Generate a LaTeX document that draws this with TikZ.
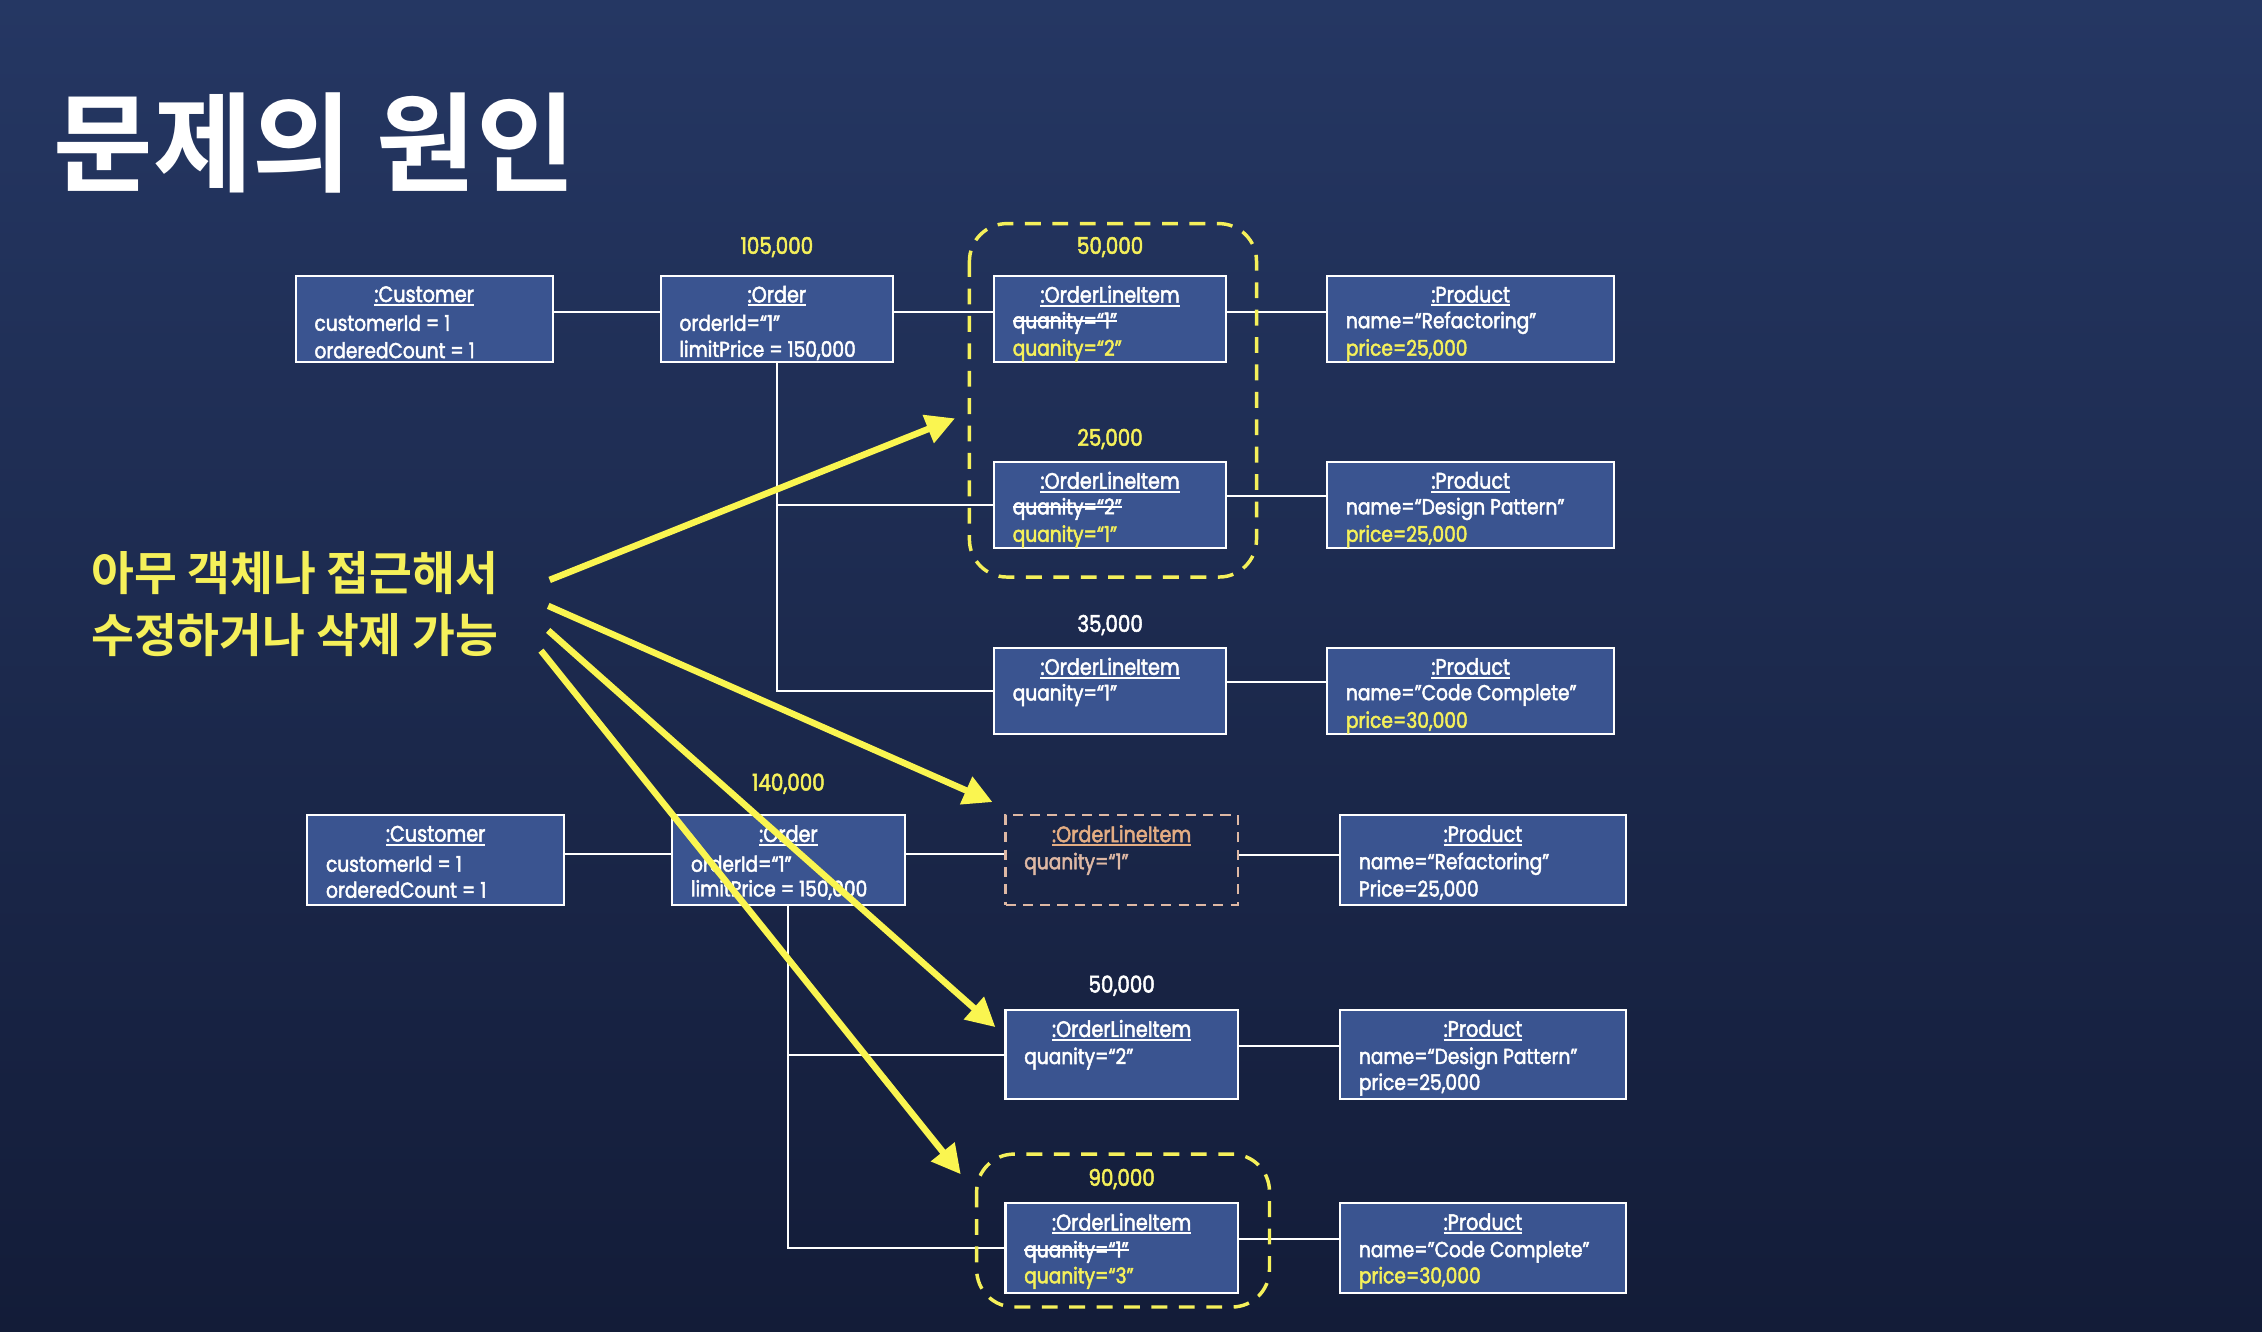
\documentclass[tikz,border=0pt]{standalone}
\usepackage{fontspec}
\setmainfont{Poppins}[FakeStretch=0.86, FakeBold=2.2]
\newfontfamily\krfont{Noto Sans CJK KR}[BoldFont=* Bold]
\usetikzlibrary{arrows.meta,calc}

\definecolor{bgtop}{RGB}{37,55,99}
\definecolor{bgbot}{RGB}{19,28,56}
\definecolor{boxfill}{RGB}{58,84,144}
\definecolor{hiyel}{RGB}{245,240,90}
\definecolor{arryel}{RGB}{250,245,80}
\definecolor{peach}{RGB}{222,184,164}

\newsavebox\strkbox
\newsavebox\ulbox
\newcommand\strk[1]{\sbox\strkbox{#1}\rlap{\usebox\strkbox}\rule[0.3em]{\wd\strkbox}{1.2pt}}
\newcommand\uname[1]{\sbox\ulbox{#1}\rlap{\usebox\ulbox}\rule[-2.8pt]{\wd\ulbox}{1.4pt}}
\newcommand\ylw[1]{\textcolor{hiyel}{#1}}

% title, first and second attribute line of an object box
\newcommand\objhead[2]{\node[ttl] (#1-t) at ([yshift=-15pt]#1.north) {\uname{#2}};}
\newcommand\objattr[3]{\node[attr] (#1-#2) at ([xshift=13.5pt,yshift=-#2pt-1.5pt]#1.north west) {#3};}

\tikzset{
  obj/.style={draw=white, line width=1.4pt, fill=boxfill, inner sep=0pt, minimum height=60pt},
  olw/.style={obj, minimum width=161pt},
  prw/.style={obj, minimum width=199pt},
  ttl/.style={text=white, font=\fontsize{15.5}{17}\selectfont, inner sep=0pt},
  attr/.style={text=white, font=\fontsize{15}{17}\selectfont, inner sep=0pt, anchor=west},
  val/.style={font=\fontsize{16}{18}\selectfont, inner sep=0pt},
  link/.style={draw=white, line width=1.4pt},
  hl/.style={draw=hiyel, line width=2.4pt, dash pattern=on 11pt off 8pt, rounded corners=26pt},
  pointer/.style={draw=arryel, line width=4.5pt, -{Triangle[length=20pt,width=20pt]}},
  krtext/.style={inner sep=0pt, anchor=west}
}

\begin{document}
\begin{tikzpicture}[x=1pt,y=-1pt]
\shade[top color=bgtop, bottom color=bgbot] (0,0) rectangle (1568,923);
\useasboundingbox (0,0) rectangle (1568,923);

% heading and note
\node[krtext, text=white, font=\krfont\bfseries\fontsize{75}{78}\selectfont] (head) at (37,99) {문제의 원인};
\node[krtext, text=hiyel, font=\krfont\bfseries\fontsize{32.3}{34}\selectfont] (kr1) at (63,397) {아무 객체나 접근해서};
\node[krtext, text=hiyel, font=\krfont\bfseries\fontsize{32.3}{34}\selectfont] (kr2) at (63,440) {수정하거나 삭제 가능};

% ---- first order ----
\node[obj, minimum width=178pt] (cu1) at (294,221) {};
\node[olw] (or1) at (538.5,221) {};
\node[olw] (li1) at (769.5,221) {};
\node[prw] (pr1) at (1019.5,221) {};
\node[olw] (li2) at (769.5,350) {};
\node[prw] (pr2) at (1019.5,350) {};
\node[olw] (li3) at (769.5,479) {};
\node[prw] (pr3) at (1019.5,479) {};

\draw[link] ([yshift=5pt]cu1.east) -- ([yshift=5pt]or1.west);
\draw[link] ([yshift=5pt]or1.east) -- ([yshift=5pt]li1.west);
\draw[link] ([yshift=5pt]li1.east) -- ([yshift=5pt]pr1.west);
\draw[link] (or1.south) |- (li2.west);
\draw[link] (or1.south) |- (li3.west);
\draw[link] ([yshift=6pt]li2.east) -- ([yshift=6pt]pr2.west);
\draw[link] ([yshift=6pt]li3.east) -- ([yshift=6pt]pr3.west);

\objhead{cu1}{:Customer}
\objattr{cu1}{32}{customerId = 1}
\objattr{cu1}{51}{orderedCount = 1}
\objhead{or1}{:Order}
\objattr{or1}{32}{orderId=“1”}
\objattr{or1}{51}{limitPrice = 150,000}
\objhead{li1}{:OrderLineItem}
\objattr{li1}{32}{\strk{quanity=“1”}}
\objattr{li1}{51}{\ylw{quanity=“2”}}
\objhead{pr1}{:Product}
\objattr{pr1}{32}{name=“Refactoring”}
\objattr{pr1}{51}{\ylw{price=25,000}}
\objhead{li2}{:OrderLineItem}
\objattr{li2}{32}{\strk{quanity=“2”}}
\objattr{li2}{51}{\ylw{quanity=“1”}}
\objhead{pr2}{:Product}
\objattr{pr2}{32}{name=“Design Pattern”}
\objattr{pr2}{51}{\ylw{price=25,000}}
\objhead{li3}{:OrderLineItem}
\objattr{li3}{32}{quanity=“1”}
\objhead{pr3}{:Product}
\objattr{pr3}{32}{name=”Code Complete”}
\objattr{pr3}{51}{\ylw{price=30,000}}

\node[val, text=hiyel] (v-or1) at ([yshift=19pt]or1.north) {105,000};
\node[val, text=hiyel] (v-li1) at ([yshift=19pt]li1.north) {50,000};
\node[val, text=hiyel] (v-li2) at ([yshift=15pt]li2.north) {25,000};
\node[val, text=white] (v-li3) at ([yshift=15pt]li3.north) {35,000};

\draw[hl] (672,155) rectangle (871,400);

% ---- second order ----
\node[obj, minimum width=178pt, minimum height=62pt] (cu2) at (302,596) {};
\node[olw, minimum height=62pt] (or2) at (546.5,596) {};
\node[olw, minimum height=62pt, draw=peach, fill=none, dash pattern=on 7pt off 5pt] (li4) at (777.5,596) {};
\node[prw, minimum width=198pt, minimum height=62pt] (pr4) at (1028,596) {};
\node[olw, minimum height=62pt] (li5) at (777.5,731) {};
\node[prw, minimum width=198pt, minimum height=62pt] (pr5) at (1028,731) {};
\node[olw, minimum height=62pt] (li6) at (777.5,865) {};
\node[prw, minimum width=198pt, minimum height=62pt] (pr6) at (1028,865) {};

\draw[link] ([yshift=4pt]cu2.east) -- ([yshift=4pt]or2.west);
\draw[link] ([yshift=4pt]or2.east) -- ([yshift=4pt]li4.west);
\draw[link] ([yshift=3pt]li4.east) -- ([yshift=3pt]pr4.west);
\draw[link] (or2.south) |- (li5.west);
\draw[link] (or2.south) |- (li6.west);
\draw[link] ([yshift=6pt]li5.east) -- ([yshift=6pt]pr5.west);
\draw[link] ([yshift=6pt]li6.east) -- ([yshift=6pt]pr6.west);

\objhead{cu2}{:Customer}
\objattr{cu2}{33}{customerId = 1}
\objattr{cu2}{51}{orderedCount = 1}
\objhead{or2}{:Order}
\objattr{or2}{33}{orderId=“1”}
\objattr{or2}{51}{limitPrice = 150,000}
\node[ttl, text=peach!80!orange] (li4-t) at ([yshift=-15pt]li4.north) {\uname{:OrderLineItem}};
\node[attr, text=peach] (li4-33) at ([xshift=13.5pt,yshift=-34.5pt]li4.north west) {quanity=“1”};
\objhead{pr4}{:Product}
\objattr{pr4}{33}{name=“Refactoring”}
\objattr{pr4}{51}{Price=25,000}
\objhead{li5}{:OrderLineItem}
\objattr{li5}{33}{quanity=“2”}
\objhead{pr5}{:Product}
\objattr{pr5}{33}{name=“Design Pattern”}
\objattr{pr5}{51}{price=25,000}
\objhead{li6}{:OrderLineItem}
\objattr{li6}{33}{\strk{quanity=“1”}}
\objattr{li6}{51}{\ylw{quanity=“3”}}
\objhead{pr6}{:Product}
\objattr{pr6}{33}{name=”Code Complete”}
\objattr{pr6}{51}{\ylw{price=30,000}}

\node[val, text=hiyel] (v-or2) at ([yshift=21pt]or2.north) {140,000};
\node[val, text=white] (v-li5) at ([yshift=16pt]li5.north) {50,000};
\node[val, text=hiyel] (v-li6) at ([yshift=16pt]li6.north) {90,000};

\draw[hl] (677,800) rectangle (880,906);

% ---- pointers from the note ----
\coordinate (s1) at (381,402);
\coordinate (s2) at (380,420);
\coordinate (s3) at (380,437);
\coordinate (s4) at (375,451);
\coordinate (t1) at (662,290);
\coordinate (t2) at (688,556);
\coordinate (t3) at (690,712);
\coordinate (t4) at (666,814);
\draw[pointer] (s1) -- (t1);
\draw[pointer] (s2) -- (t2);
\draw[pointer] (s3) -- (t3);
\draw[pointer] (s4) -- (t4);
\end{tikzpicture}
\end{document}
